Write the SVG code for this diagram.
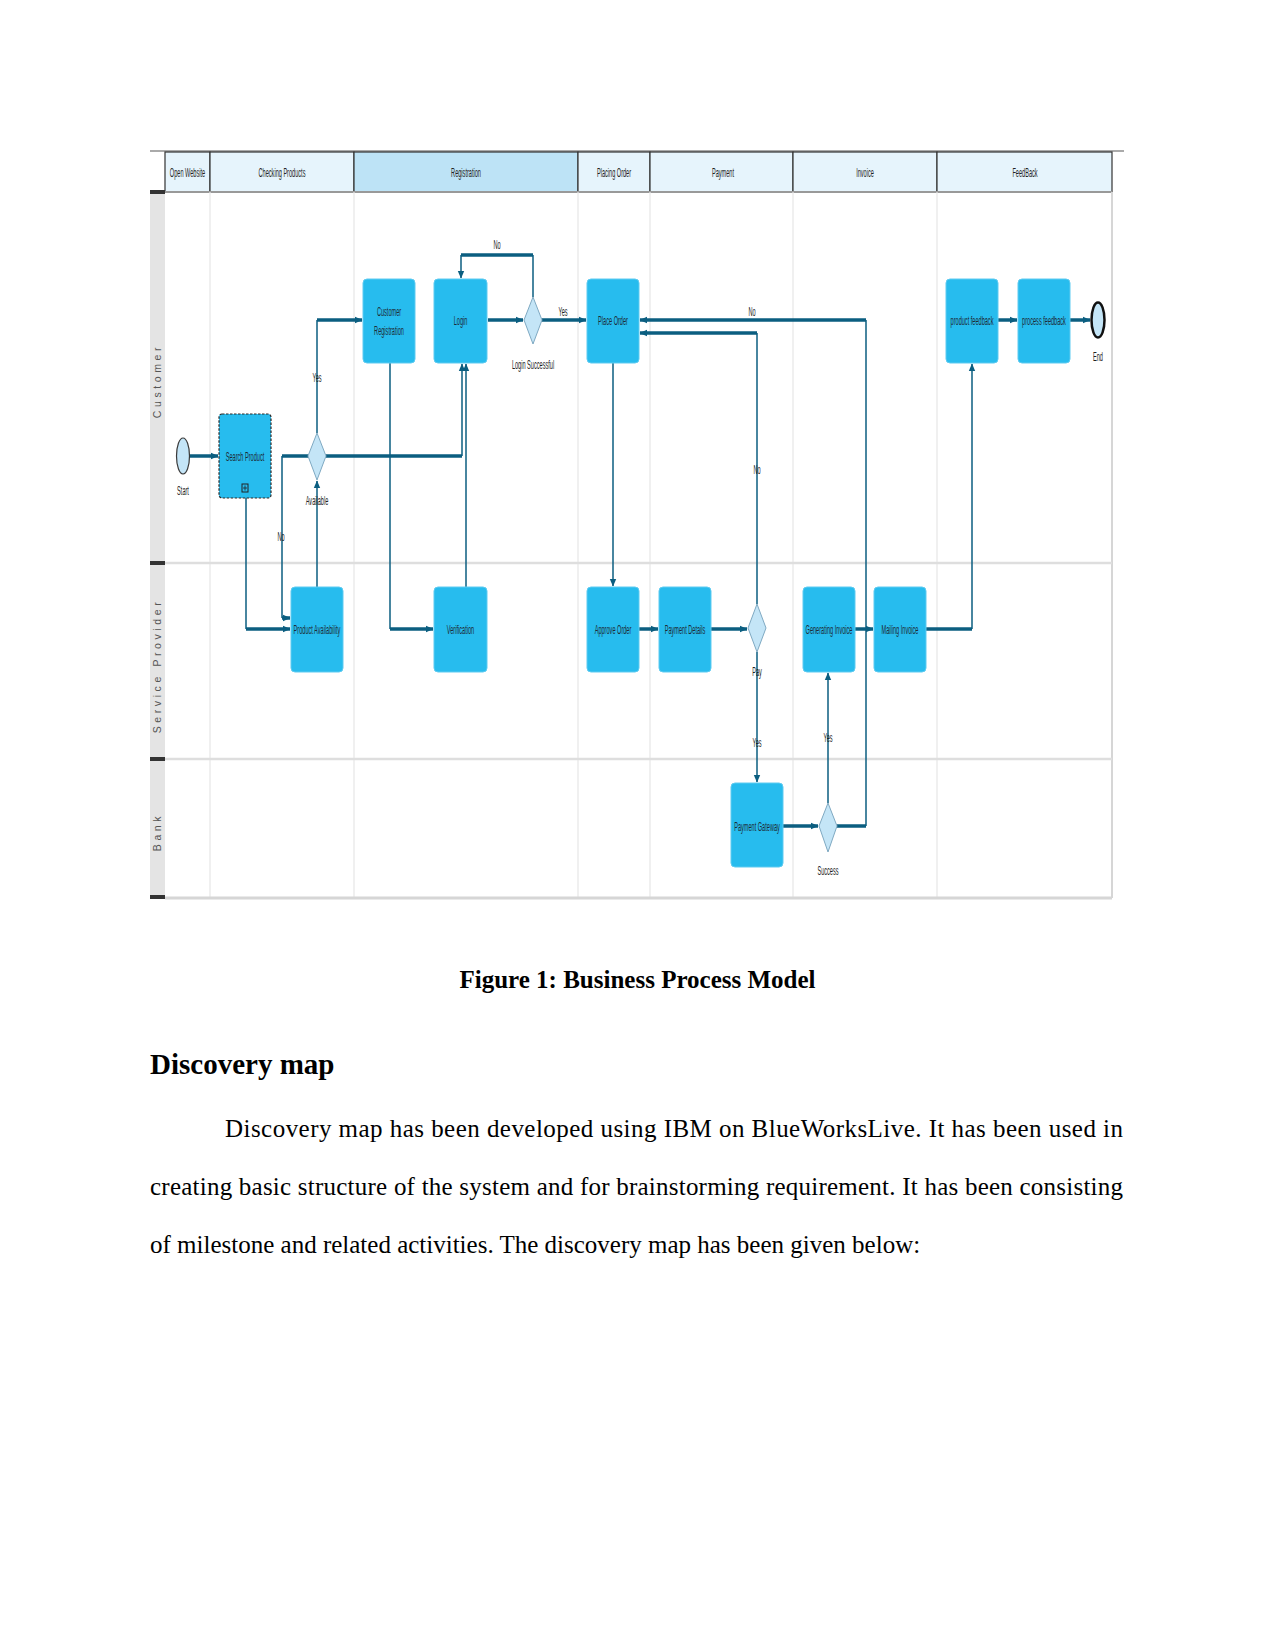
<svg xmlns="http://www.w3.org/2000/svg" width="1275" height="1651" viewBox="0 0 1275 1651">
<style>
.bg{fill:#ffffff}
.hdr{fill:#e6f4fc;stroke:#333;stroke-width:1.2}
.hdrsel{fill:#bde3f6;stroke:#333;stroke-width:1.2}
.ht{font-family:"Liberation Sans",Arial,sans-serif;font-size:13px;fill:#222;text-anchor:middle}
.lanebar{fill:#e4e4e4}
.tab{fill:#333}
.lt{font-family:"Liberation Sans",Arial,sans-serif;font-size:10.5px;fill:#555;letter-spacing:3.6px;text-anchor:middle}
.grid{stroke:#e6e6e6;stroke-width:1.2;fill:none}
.lane{stroke:#dedede;stroke-width:2.5;fill:none}
.task{fill:#27bcee;stroke:#5fcbf1;stroke-width:1}
.dash{fill:#27bcee;stroke:#2a2a2a;stroke-width:1.2;stroke-dasharray:2.5 1.5}
.nt{font-family:"Liberation Sans",Arial,sans-serif;font-size:13px;fill:#1d2b36;text-anchor:middle}
.gw{fill:#c4e5f7;stroke:#7fa9c2;stroke-width:1}
.ev{fill:#c4e5f7;stroke:#3a3a3a;stroke-width:1.2}
.evend{fill:#c4e5f7;stroke:#111;stroke-width:2.5}
.sl{font-family:"Liberation Sans",Arial,sans-serif;font-size:13px;fill:#222;text-anchor:middle}
.thick{stroke:#0b5e80;stroke-width:3.5;fill:none}
.thin{stroke:#0b5e80;stroke-width:1.5;fill:none}
.cap{font-family:"Liberation Serif","Times New Roman",serif;font-size:25px;font-weight:bold;fill:#000}
.h2{font-family:"Liberation Serif","Times New Roman",serif;font-size:29px;font-weight:bold;fill:#000}
.p{font-family:"Liberation Serif","Times New Roman",serif;font-size:25px;fill:#000}
</style>
<defs>
<marker id="ah" markerUnits="userSpaceOnUse" markerWidth="8" markerHeight="8" viewBox="0 0 8 8" refX="7" refY="4" orient="auto">
<path d="M0,0.8 L7.5,4 L0,7.2 Z" fill="#0b5e80"/>
</marker>
</defs>
<rect class="bg" x="0" y="0" width="1275" height="1651"/>

<g id="pool">
<line x1="150" y1="151" x2="1124" y2="151" stroke="#aaaaaa" stroke-width="2"/>
<rect class="hdr" x="165" y="152" width="45" height="40"/>
<rect class="hdr" x="210" y="152" width="144" height="40"/>
<rect class="hdrsel" x="354" y="152" width="224" height="40"/>
<rect class="hdr" x="578" y="152" width="72" height="40"/>
<rect class="hdr" x="650" y="152" width="143" height="40"/>
<rect class="hdr" x="793" y="152" width="144" height="40"/>
<rect class="hdr" x="937" y="152" width="175" height="40"/>
<line x1="165" y1="192" x2="1112" y2="192" stroke="#999" stroke-width="2"/>
<text class="ht" transform="translate(187.5 177) scale(0.43 1)">Open Website</text>
<text class="ht" transform="translate(282 177) scale(0.43 1)">Checking Products</text>
<text class="ht" transform="translate(466 177) scale(0.43 1)">Registration</text>
<text class="ht" transform="translate(614 177) scale(0.43 1)">Placing Order</text>
<text class="ht" transform="translate(723 177) scale(0.43 1)">Payment</text>
<text class="ht" transform="translate(865 177) scale(0.43 1)">Invoice</text>
<text class="ht" transform="translate(1025 177) scale(0.43 1)">FeedBack</text>

<rect class="lanebar" x="150" y="192" width="15" height="706"/>
<rect class="tab" x="150" y="190" width="15" height="4"/>
<rect class="tab" x="150" y="561" width="15" height="4"/>
<rect class="tab" x="150" y="757" width="15" height="4"/>
<rect class="tab" x="150" y="895" width="15" height="4"/>
<text class="lt" transform="rotate(-90 160.5 381)" x="160.5" y="381">Customer</text>
<text class="lt" transform="rotate(-90 160.5 666)" x="160.5" y="666">Service Provider</text>
<text class="lt" transform="rotate(-90 160.5 832)" x="160.5" y="832">Bank</text>

<line class="grid" x1="210" y1="192" x2="210" y2="898"/>
<line class="grid" x1="354" y1="192" x2="354" y2="898"/>
<line class="grid" x1="578" y1="192" x2="578" y2="898"/>
<line class="grid" x1="650" y1="192" x2="650" y2="898"/>
<line class="grid" x1="793" y1="192" x2="793" y2="898"/>
<line class="grid" x1="937" y1="192" x2="937" y2="898"/>
<line x1="1112" y1="192" x2="1112" y2="898" stroke="#d6d6d6" stroke-width="2"/>
<line class="lane" x1="165" y1="563" x2="1112" y2="563"/>
<line class="lane" x1="165" y1="759" x2="1112" y2="759"/>
<line x1="165" y1="898" x2="1112" y2="898" stroke="#d6d6d6" stroke-width="3"/>
</g>

<g id="connectors">
<path class="thick" d="M189,456 H218" marker-end="url(#ah)"/>
<path class="thin" d="M246,498 V629"/>
<path class="thick" d="M246,629 H290" marker-end="url(#ah)"/>
<path class="thick" d="M308,456 H282"/>
<path class="thin" d="M282,456 V618"/>
<path class="thick" d="M282,618 H290" marker-end="url(#ah)"/>
<path class="thin" d="M317,587 V481" marker-end="url(#ah)"/>
<path class="thin" d="M317,433 V320"/>
<path class="thick" d="M317,320 H362" marker-end="url(#ah)"/>
<path class="thick" d="M326,456 H462"/>
<path class="thin" d="M462,456 V364" marker-end="url(#ah)"/>
<path class="thin" d="M390,363 V629"/>
<path class="thick" d="M390,629 H433" marker-end="url(#ah)"/>
<path class="thin" d="M466,587 V364" marker-end="url(#ah)"/>
<path class="thick" d="M488,320 H523" marker-end="url(#ah)"/>
<path class="thin" d="M533,297 V255"/>
<path class="thick" d="M533,255 H461"/>
<path class="thin" d="M461,255 V278" marker-end="url(#ah)"/>
<path class="thick" d="M542,320 H586" marker-end="url(#ah)"/>
<path class="thin" d="M613,363 V586" marker-end="url(#ah)"/>
<path class="thick" d="M639,629 H658" marker-end="url(#ah)"/>
<path class="thick" d="M711,629 H747" marker-end="url(#ah)"/>
<path class="thin" d="M757,604 V333"/>
<path class="thick" d="M757,333 H640" marker-end="url(#ah)"/>
<path class="thin" d="M757,652 V782" marker-end="url(#ah)"/>
<path class="thick" d="M783,826 H818" marker-end="url(#ah)"/>
<path class="thin" d="M828,803 V673" marker-end="url(#ah)"/>
<path class="thick" d="M837,826 H866"/>
<path class="thin" d="M866,826 V320"/>
<path class="thick" d="M866,320 H640" marker-end="url(#ah)"/>
<path class="thick" d="M855,629 H873" marker-end="url(#ah)"/>
<path class="thick" d="M926,629 H972"/>
<path class="thin" d="M972,629 V364" marker-end="url(#ah)"/>
<path class="thick" d="M998,320 H1017" marker-end="url(#ah)"/>
<path class="thick" d="M1070,320 H1090" marker-end="url(#ah)"/>
<text class="sl" transform="translate(281 541) scale(0.43 1)">No</text>
<text class="sl" transform="translate(317 382) scale(0.43 1)">Yes</text>
<text class="sl" transform="translate(497 249) scale(0.43 1)">No</text>
<text class="sl" transform="translate(563 316) scale(0.43 1)">Yes</text>
<text class="sl" transform="translate(752 316) scale(0.43 1)">No</text>
<text class="sl" transform="translate(757 474) scale(0.43 1)">No</text>
<text class="sl" transform="translate(757 747) scale(0.43 1)">Yes</text>
<text class="sl" transform="translate(828 742) scale(0.43 1)">Yes</text>
</g>

<g id="start">
<ellipse class="ev" cx="183" cy="456" rx="6.5" ry="18"/>
<text class="sl" transform="translate(183 495) scale(0.43 1)">Start</text>
</g>
<g id="search-product">
<rect class="dash" x="219" y="414" width="52" height="84" rx="3"/>
<text class="nt" transform="translate(245 461) scale(0.43 1)">Search Product</text>
<rect x="242" y="484" width="6" height="8" fill="none" stroke="#222" stroke-width="1"/>
<path d="M245,485.5 V490.5 M243,488 H247" stroke="#222" stroke-width="0.8"/>
</g>
<g id="available">
<polygon class="gw" points="317,433 326,456 317,480 308,456"/>
<text class="sl" transform="translate(317 505) scale(0.43 1)">Available</text>
</g>
<g id="customer-registration">
<rect class="task" x="363" y="279" width="52" height="84" rx="4"/>
<text class="nt" transform="translate(389 316) scale(0.43 1)">Customer</text>
<text class="nt" transform="translate(389 335) scale(0.43 1)">Registration</text>
</g>
<g id="login">
<rect class="task" x="434" y="279" width="53" height="84" rx="4"/>
<text class="nt" transform="translate(460.5 325) scale(0.43 1)">Login</text>
</g>
<g id="login-successful">
<polygon class="gw" points="533,297 542,320 533,344 524,320"/>
<text class="sl" transform="translate(533 369) scale(0.43 1)">Login Successful</text>
</g>
<g id="place-order">
<rect class="task" x="587" y="279" width="52" height="84" rx="4"/>
<text class="nt" transform="translate(613 325) scale(0.43 1)">Place Order</text>
</g>
<g id="product-feedback">
<rect class="task" x="946" y="279" width="52" height="84" rx="4"/>
<text class="nt" transform="translate(972 325) scale(0.43 1)">product feedback</text>
</g>
<g id="process-feedback">
<rect class="task" x="1018" y="279" width="52" height="84" rx="4"/>
<text class="nt" transform="translate(1044 325) scale(0.43 1)">process feedback</text>
</g>
<g id="end">
<ellipse class="evend" cx="1098" cy="320" rx="6.5" ry="17.5"/>
<text class="sl" transform="translate(1098 361) scale(0.43 1)">End</text>
</g>
<g id="product-availability">
<rect class="task" x="291" y="587" width="52" height="85" rx="4"/>
<text class="nt" transform="translate(317 634) scale(0.43 1)">Product Availability</text>
</g>
<g id="verification">
<rect class="task" x="434" y="587" width="53" height="85" rx="4"/>
<text class="nt" transform="translate(460.5 634) scale(0.43 1)">Verification</text>
</g>
<g id="approve-order">
<rect class="task" x="587" y="587" width="52" height="85" rx="4"/>
<text class="nt" transform="translate(613 634) scale(0.43 1)">Approve Order</text>
</g>
<g id="payment-details">
<rect class="task" x="659" y="587" width="52" height="85" rx="4"/>
<text class="nt" transform="translate(685 634) scale(0.43 1)">Payment Details</text>
</g>
<g id="pay">
<polygon class="gw" points="757,604 766,628 757,652 748,628"/>
<text class="sl" transform="translate(757 676) scale(0.43 1)">Pay</text>
</g>
<g id="generating-invoice">
<rect class="task" x="803" y="587" width="52" height="85" rx="4"/>
<text class="nt" transform="translate(829 634) scale(0.43 1)">Generating Invoice</text>
</g>
<g id="mailing-invoice">
<rect class="task" x="874" y="587" width="52" height="85" rx="4"/>
<text class="nt" transform="translate(900 634) scale(0.43 1)">Mailing Invoice</text>
</g>
<g id="payment-gateway">
<rect class="task" x="731" y="783" width="52" height="84" rx="4"/>
<text class="nt" transform="translate(757 831) scale(0.43 1)">Payment Gateway</text>
</g>
<g id="success">
<polygon class="gw" points="828,803 837,826 828,852 819,826"/>
<text class="sl" transform="translate(828 875) scale(0.43 1)">Success</text>
</g>

<g id="text">
<text class="cap" x="637.5" y="988" text-anchor="middle">Figure 1: Business Process Model</text>
<text class="h2" x="150" y="1074">Discovery map</text>
<text class="p" x="225" y="1137" textLength="898" lengthAdjust="spacing">Discovery map has been developed using IBM on BlueWorksLive. It has been used in</text>
<text class="p" x="150" y="1195" textLength="973" lengthAdjust="spacing">creating basic structure of the system and for brainstorming requirement. It has been consisting</text>
<text class="p" x="150" y="1253">of milestone and related activities. The discovery map has been given below:</text>
</g>
</svg>
